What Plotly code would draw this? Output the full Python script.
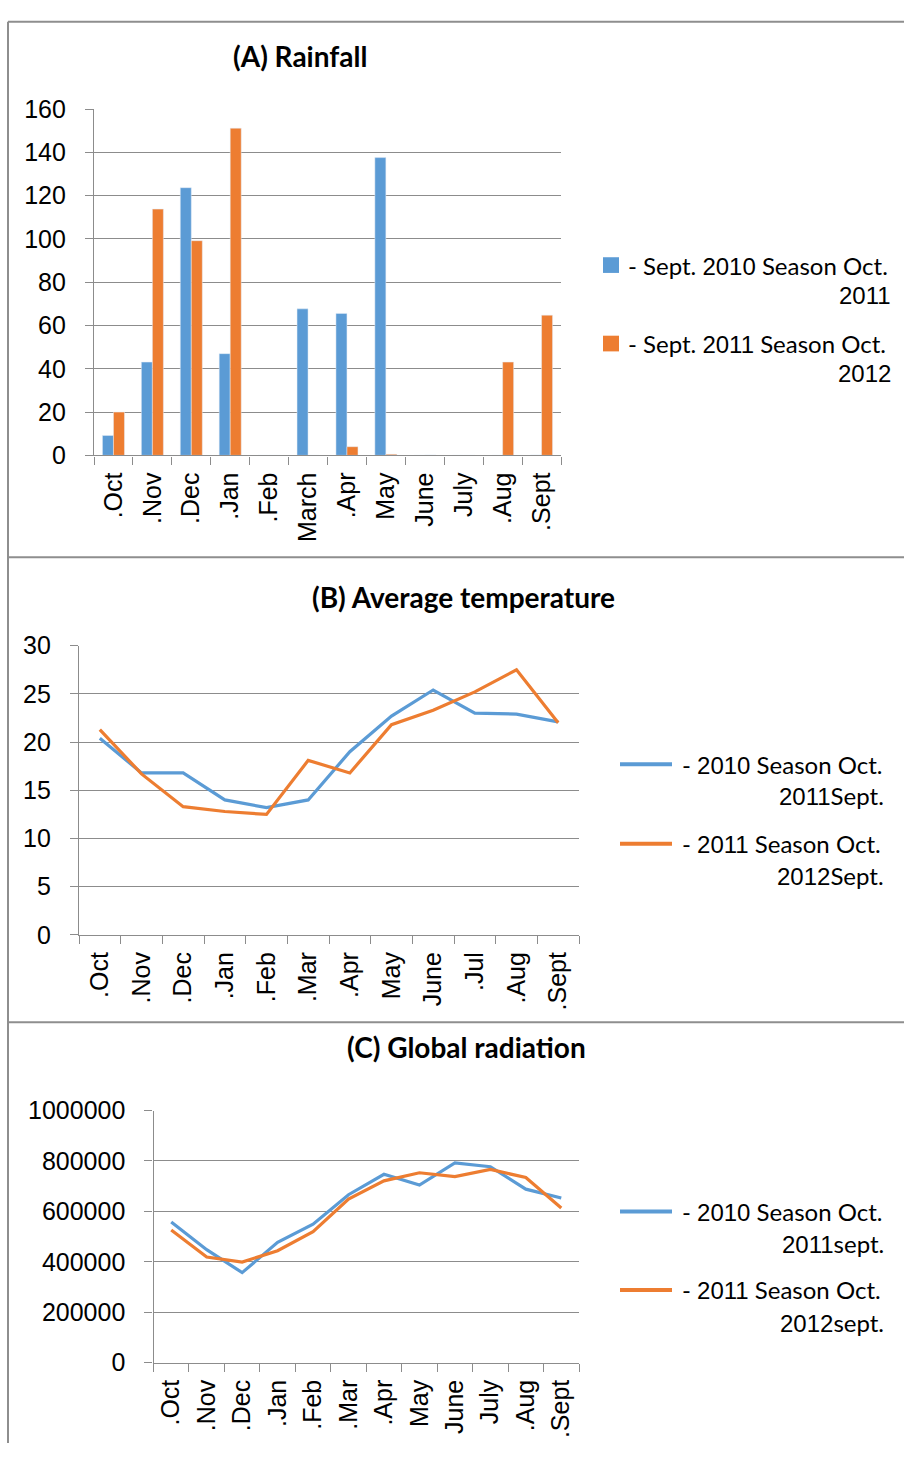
import plotly.graph_objects as go

W, H = 904, 1457

# ---------------- data ----------------
rain_months = [".Oct", ".Nov", ".Dec", ".Jan", ".Feb", "March", ".Apr", "May", "June", "July", ".Aug", ".Sept"]
rain_2010_11 = [9.2, 43.1, 123.7, 47.0, 0, 67.7, 65.6, 137.6, 0, 0, 0, 0.2]
rain_2011_12 = [20.0, 113.8, 99.2, 151.2, 0, 0, 4.0, 0.5, 0.2, 0, 43.1, 64.8]

temp_months = [".Oct", ".Nov", ".Dec", ".Jan", ".Feb", ".Mar", ".Apr", "May", "June", ".Jul", ".Aug", ".Sept"]
temp_2010_11 = [20.4, 16.8, 16.8, 14.0, 13.2, 14.0, 19.0, 22.7, 25.4, 23.0, 22.9, 22.1]
temp_2011_12 = [21.3, 16.7, 13.3, 12.8, 12.5, 18.1, 16.8, 21.8, 23.3, 25.2, 27.5, 22.0]

rad_months = [".Oct", ".Nov", ".Dec", ".Jan", ".Feb", ".Mar", ".Apr", "May", "June", "July", ".Aug", ".Sept"]
rad_2010_11 = [558000, 448000, 357000, 477000, 549000, 666000, 747000, 704000, 792000, 777000, 688000, 653000]
rad_2011_12 = [526000, 419000, 399000, 444000, 519000, 649000, 721000, 753000, 738000, 766000, 734000, 613000]

BLUE = "#5B9BD5"
ORANGE = "#ED7D31"
GRID = "#8C8C8C"
ARIAL = "Liberation Sans, Arial, sans-serif"
CALIBRI = "Lato, Carlito, Calibri, sans-serif"


def px_x(x):
    return x / W


def px_y(y):
    return 1 - y / H


fig = go.Figure()

# (A) Rainfall bars
fig.add_trace(go.Bar(x=rain_months, y=rain_2010_11, marker_color=BLUE, name="Sept. 2010 - Oct. 2011",
                     xaxis="x", yaxis="y", showlegend=False))
fig.add_trace(go.Bar(x=rain_months, y=rain_2011_12, marker_color=ORANGE, name="Sept. 2011 - Oct. 2012",
                     xaxis="x", yaxis="y", showlegend=False))

# (B) Temperature lines
fig.add_trace(go.Scatter(x=temp_months, y=temp_2010_11, mode="lines", line=dict(color=BLUE, width=3.2),
                         xaxis="x2", yaxis="y2", showlegend=False))
fig.add_trace(go.Scatter(x=temp_months, y=temp_2011_12, mode="lines", line=dict(color=ORANGE, width=3.2),
                         xaxis="x2", yaxis="y2", showlegend=False))

# (C) Radiation lines
fig.add_trace(go.Scatter(x=rad_months, y=rad_2010_11, mode="lines", line=dict(color=BLUE, width=3.2),
                         xaxis="x3", yaxis="y3", showlegend=False))
fig.add_trace(go.Scatter(x=rad_months, y=rad_2011_12, mode="lines", line=dict(color=ORANGE, width=3.2),
                         xaxis="x3", yaxis="y3", showlegend=False))


def xaxis_style(domain, anchor):
    return dict(domain=domain, anchor=anchor, type="category", range=[-0.5, 11.5],
                showgrid=False, showline=True, linecolor=GRID, linewidth=1.3,
                ticks="outside", tickson="boundaries", ticklen=8, tickcolor=GRID, tickwidth=1.3,
                tickangle=-90, tickfont=dict(family=ARIAL, size=25, color="#000000"),
                ticklabelstandoff=6, fixedrange=True)


def yaxis_style(domain, anchor, rng, dtick):
    return dict(domain=domain, anchor=anchor, range=rng, dtick=dtick, tick0=0,
                showgrid=True, gridcolor=GRID, gridwidth=1.3, zeroline=False,
                showline=True, linecolor=GRID, linewidth=1.3,
                ticks="outside", ticklen=8, tickcolor=GRID, tickwidth=1.3,
                tickfont=dict(family=ARIAL, size=25, color="#000000"),
                ticklabelstandoff=14, tickformat="d", fixedrange=True)


fig.update_layout(
    width=W, height=H, autosize=False,
    margin=dict(l=0, r=0, t=0, b=0),
    paper_bgcolor="white", plot_bgcolor="white",
    barmode="group", bargap=0.434, bargroupgap=0,
    showlegend=False,
    xaxis=xaxis_style([px_x(94), px_x(561)], "y"),
    yaxis=yaxis_style([px_y(450), px_y(97)], "x", [0, 160], 20),
    xaxis2=xaxis_style([px_x(79), px_x(579)], "y2"),
    yaxis2=yaxis_style([px_y(939), px_y(644)], "x2", [0, 30], 5),
    xaxis3=xaxis_style([px_x(153.5), px_x(579)], "y3"),
    yaxis3=yaxis_style([px_y(1375), px_y(1118)], "x3", [0, 1000000], 200000),
)

# Panel frame lines
frame = dict(color="#8E8E8E", width=2)
shapes = [
    dict(type="line", xref="paper", yref="paper", x0=px_x(8), x1=1, y0=px_y(8), y1=px_y(8), line=frame),
    dict(type="line", xref="paper", yref="paper", x0=px_x(8), x1=px_x(8), y0=px_y(8), y1=0, line=frame),
    dict(type="line", xref="paper", yref="paper", x0=px_x(8), x1=1, y0=px_y(554), y1=px_y(554), line=frame),
    dict(type="line", xref="paper", yref="paper", x0=px_x(8), x1=1, y0=px_y(1028), y1=px_y(1028), line=frame),
]

annotations = []


def title(text, cx, cy):
    annotations.append(dict(text="<b>" + text + "</b>", xref="paper", yref="paper", x=px_x(cx), y=px_y(cy),
                            xanchor="center", yanchor="middle", showarrow=False,
                            font=dict(family=CALIBRI, size=28, color="#000000")))


title("(A) Rainfall", 300, 43)
title("(B) Average temperature", 463, 594)
title("(C) Global radiation", 466, 1053)


def legend_text(text, x, y, anchor):
    annotations.append(dict(text=text, xref="paper", yref="paper", x=px_x(x), y=px_y(y),
                            xanchor=anchor, yanchor="middle", showarrow=False,
                            font=dict(family=CALIBRI, size=24, color="#000000")))


def ar(t):
    return '<span style="font-family:Liberation Sans">' + t + '</span>'


# Legend A (squares)
for (yc, color, l1, l2) in [
    (256, BLUE, "- Sept. " + ar("2010") + " Season Oct.", ar("2011")),
    (336, ORANGE, "- Sept. " + ar("2011") + " Season Oct.", ar("2012")),
]:
    shapes.append(dict(type="rect", xref="paper", yref="paper", x0=px_x(603), x1=px_x(619),
                       y0=px_y(yc + 8), y1=px_y(yc - 8), fillcolor=color, line=dict(width=0)))
    legend_text(l1, 626, yc, "left")
    legend_text(l2, 893, yc + 31, "right")

# Legend B (lines)
for (yc, color, l1, l2) in [
    (765, BLUE, "- " + ar("2010") + " Season Oct.", ar("2011") + "Sept."),
    (846, ORANGE, "- " + ar("2011") + " Season Oct.", ar("2012") + "Sept."),
]:
    shapes.append(dict(type="line", xref="paper", yref="paper", x0=px_x(620), x1=px_x(672),
                       y0=px_y(yc), y1=px_y(yc), line=dict(color=color, width=4)))
    legend_text(l1, 680, yc, "left")
    legend_text(l2, 886, yc + 32, "right")

# Legend C (lines)
for (yc, color, l1, l2) in [
    (1221, BLUE, "- " + ar("2010") + " Season Oct.", ar("2011") + "sept."),
    (1301, ORANGE, "- " + ar("2011") + " Season Oct.", ar("2012") + "sept."),
]:
    shapes.append(dict(type="line", xref="paper", yref="paper", x0=px_x(620), x1=px_x(672),
                       y0=px_y(yc), y1=px_y(yc), line=dict(color=color, width=4)))
    legend_text(l1, 680, yc, "left")
    legend_text(l2, 886, yc + 33, "right")

fig.update_layout(shapes=shapes, annotations=annotations)

fig.write_html(
    "out.html",
    config={"displayModeBar": False},
    post_script="document.body.style.margin='0';document.body.style.padding='0';"
                "document.documentElement.style.overflow='hidden';",
)
